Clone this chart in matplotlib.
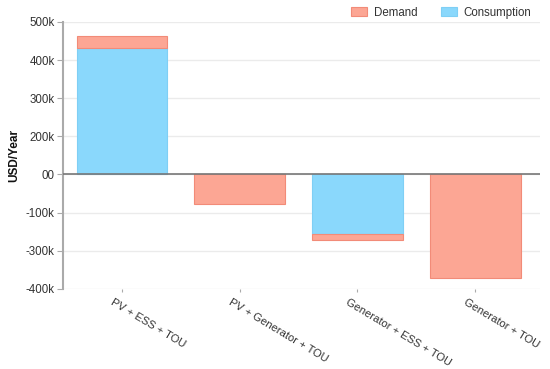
import numpy as np
import matplotlib.pyplot as plt
import matplotlib.transforms as mtransforms

plt.rcParams['font.family'] = ['Liberation Sans', 'DejaVu Sans']

scenarios = ['PV + ESS + TOU', 'PV + Generator + TOU',
             'Generator + ESS + TOU', 'Generator + TOU']
# values in USD/Year as drawn on the axis grid
consumption = [331000, 0, -156000, 0]
demand = [31000, -78000, -16000, -272000]

tick_vals = [400000, 300000, 200000, 100000, 0, -100000, -200000, -300000]
tick_labels = ['500k', '400k', '300k', '200k', '00', '-100k', '-300k', '-400k']

c_demand = '#fca694'
c_demand_edge = '#f28b78'
c_cons = '#8ad8fc'
c_cons_edge = '#7fcff5'

fig = plt.figure(figsize=(5.5, 3.69), dpi=100)
ax = fig.add_axes([63/550, 1 - 288.7/369, 477/550, 266.7/369])

x = np.arange(len(scenarios))
w = 0.77
cons = np.array(consumption)
dem = np.array(demand)
ax.bar(x, cons, w, color=c_cons, edgecolor=c_cons_edge, linewidth=0.8,
       label='Consumption', zorder=2)
ax.bar(x, dem, w, bottom=cons, color=c_demand, edgecolor=c_demand_edge,
       linewidth=0.8, label='Demand', zorder=2)

ax.set_xlim(-0.5, 3.55)
ax.set_ylim(-300000, 400000)
ax.set_yticks(tick_vals)
ax.set_yticklabels(tick_labels)
ax.yaxis.grid(True, color='#ebebeb', linewidth=1, zorder=0)
ax.axhline(0, color='#777777', linewidth=1.2, zorder=3)

for s in ['top', 'right', 'bottom']:
    ax.spines[s].set_visible(False)
ax.spines['left'].set_color('#aaaaaa')
ax.spines['left'].set_linewidth(1.5)

ax.tick_params(axis='y', length=4, color='#aaaaaa', labelsize=8.3,
               labelcolor='#333333', pad=2)
ax.tick_params(axis='x', length=2, color='#aaaaaa', labelsize=8,
               labelcolor='#333333', pad=4)
ax.set_xticks(x)
ax.set_xticklabels(scenarios, rotation=-31, ha='left', rotation_mode='anchor')
shift = mtransforms.ScaledTranslation(-8/100, 0, fig.dpi_scale_trans)
for lbl in ax.get_xticklabels():
    lbl.set_transform(lbl.get_transform() + shift)

ax.set_ylabel('USD/Year', fontsize=8.5, fontweight='bold', color='#111111',
              labelpad=4)

handles, labels = ax.get_legend_handles_labels()
leg = fig.legend(handles[::-1], labels[::-1], loc='upper right',
                 bbox_to_anchor=(0.985, 1.01), ncol=2, frameon=False,
                 fontsize=8.3, handlelength=1.4, handleheight=0.8,
                 columnspacing=2.0, handletextpad=0.6)
for t in leg.get_texts():
    t.set_color('#333333')

fig.savefig('out.png', dpi=100)
